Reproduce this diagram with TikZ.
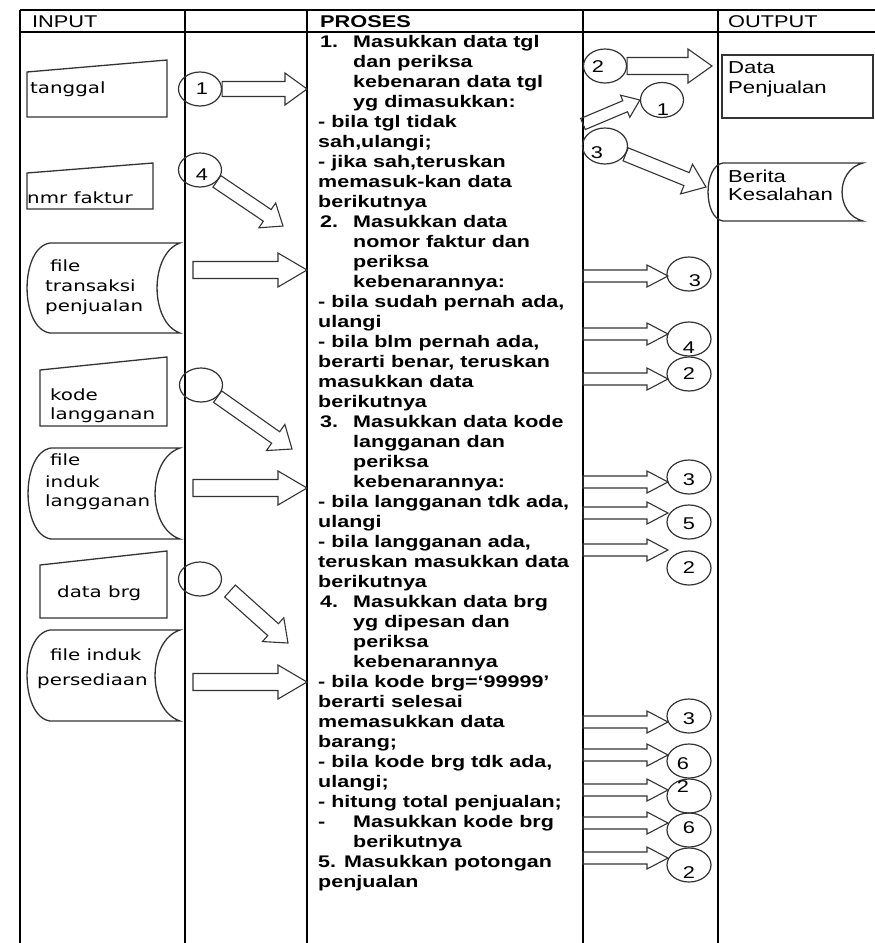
\documentclass[tikz,border=0pt]{standalone}
\usepackage{fontspec}
\usetikzlibrary{calc,shapes.geometric}
\newfontfamily\af[FakeStretch=1.28]{Liberation Sans}
\newfontfamily\df[FakeStretch=1.28]{DejaVu Sans}
\newcommand\nb[1]{\hspace*{2pt}\makebox[33pt][l]{#1}}
\newcommand\barrow[5]{%
 \draw[arr] let \p1=(#1), \p2=(#2), \n1={atan2(\y2-\y1,\x2-\x1)} in
 ($(\p1)+({\n1+90}:#3pt)$) -- ($(\p2)+({\n1+180}:#5pt)+({\n1+90}:#3pt)$)
 -- ($(\p2)+({\n1+180}:#5pt)+({\n1+90}:#4pt)$) -- (\p2)
 -- ($(\p2)+({\n1+180}:#5pt)+({\n1-90}:#4pt)$) -- ($(\p2)+({\n1+180}:#5pt)+({\n1-90}:#3pt)$)
 -- ($(\p1)+({\n1-90}:#3pt)$) -- cycle;}
% stored data shape: L R T B leftbulge rightbulge
\newcommand\stored[6]{%
 \draw[shp] ({#1+#5},#3) -- (#2,#3)
 .. controls ({#2-1.33*#6},{#3+0.12*(#4-#3)}) and ({#2-1.33*#6},{#4-0.12*(#4-#3)}) .. (#2,#4)
 -- ({#1+#5},#4)
 .. controls ({#1+#5-1.33*#5},{#4-0.05*(#4-#3)}) and ({#1+#5-1.33*#5},{#3+0.05*(#4-#3)}) .. ({#1+#5},#3) -- cycle;}
\tikzset{
 tbl/.style={line width=2pt, draw=black},
 shp/.style={line width=1.3pt, draw=black!80},
 arr/.style={line width=1.1pt, draw=black!80},
 circ/.style={ellipse, draw=black!80, line width=1.2pt, minimum width=43pt, minimum height=34pt, inner sep=0pt},
 hdr/.style={font=\af\fontsize{17}{20}\selectfont, anchor=base west, inner sep=0pt},
 ptxt/.style={font=\af\bfseries\fontsize{16.8}{20}\selectfont, anchor=base west, inner sep=0pt},
 itxt/.style={font=\df\fontsize{15.5}{20}\selectfont, anchor=base west, inner sep=0pt},
 otxt/.style={font=\af\fontsize{17.3}{20}\selectfont, anchor=base west, inner sep=0pt},
 dig/.style={font=\af\fontsize{17}{20}\selectfont, inner sep=0pt}
}
\begin{document}
\begin{tikzpicture}[x=1pt,y=-1pt]
\useasboundingbox (0,0) rectangle (875,943);
% table
\draw[tbl] (20,10) -- (875,10);
\draw[tbl] (20,32) -- (875,32);
\foreach \xx in {20,185,307,583,718} \draw[tbl] (\xx,10) -- (\xx,943);
\node[hdr] (hin) at (32,27) {INPUT};
\node[hdr,font=\af\bfseries\fontsize{17}{20}\selectfont] (hpr) at (320,27) {PROSES};
\node[hdr] (hout) at (728,27) {OUTPUT};
% input shapes
\draw[shp] (27,72) -- (167,60) -- (167,117) -- (27,117) -- cycle;
\node[itxt] (tg) at (30,93) {tanggal};
\draw[shp] (27,173) -- (153,163) -- (153,209) -- (27,209) -- cycle;
\node[itxt] (nf) at (27,203) {nmr faktur};
\stored{27}{180}{243}{333}{23}{23}
\node[itxt] at (50,271) {file};
\node[itxt] at (45,291) {transaksi};
\node[itxt] at (45,311) {penjualan};
\draw[shp] (40,370) -- (167,357) -- (167,426) -- (40,426) -- cycle;
\node[itxt] at (50,400) {kode};
\node[itxt] at (50,419) {langganan};
\stored{28}{180}{448}{539}{23}{25}
\node[itxt] at (50,465) {file};
\node[itxt] at (45,487) {induk};
\node[itxt] at (45,506) {langganan};
\draw[shp] (40,565) -- (167,551) -- (167,618) -- (40,618) -- cycle;
\node[itxt] at (57,597) {data brg};
\stored{27}{180}{630}{721}{23}{25}
\node[itxt] at (50,660) {file induk};
\node[itxt] at (37,685) {persediaan};
% output shapes
\draw[shp] (722,55) rectangle (873,118);
\node[otxt] at (728,73) {Data};
\node[otxt] at (728,93) {Penjualan};
\stored{708}{863}{163}{221}{15}{21}
\node[otxt] at (728,182) {Berita};
\node[otxt] at (728,200) {Kesalahan};
% left circles
\node[circ] (cl1) at (200,89) {};
\node[dig] at (202,89) {1};
\node[circ] (cl4) at (200,170) {};
\node[dig] at (202,175) {4};
\node[circ] (clk) at (201,385) {};
\node[circ] (cld) at (200,579) {};
% left arrows
\coordinate (t1) at (307,89);
\barrow{cl1.east}{t1}{7.5}{16}{22}
\coordinate (t4) at (283,226);
\barrow{cl4.-34}{t4}{7}{15}{19}
\coordinate (fa1) at (193,270); \coordinate (fb1) at (307,270);
\barrow{fa1}{fb1}{8.5}{17}{29}
\coordinate (tk) at (292,449);
\barrow{clk.-35}{tk}{7}{16}{20}
\coordinate (fa2) at (193,488); \coordinate (fb2) at (307,488);
\barrow{fa2}{fb2}{8.5}{17}{29}
\coordinate (ds) at (230,591); \coordinate (dt) at (288,643);
\barrow{ds}{dt}{8}{16}{20}
\coordinate (fa3) at (193,682); \coordinate (fb3) at (307,682);
\barrow{fa3}{fb3}{8.5}{17}{29}
% process text
\foreach \tx/\ix [count=\k from 0] in {
 {\nb{1.}Masukkan data tgl}/0, {dan periksa}/35, {kebenaran data tgl}/35, {yg dimasukkan:}/35,
 {- bila tgl tidak}/0, {sah,ulangi;}/0, {- jika sah,teruskan}/0, {memasuk-kan data}/0, {berikutnya}/0,
 {\nb{2.}Masukkan data}/0, {nomor faktur dan}/35, {periksa}/35, {kebenarannya:}/35,
 {- bila sudah pernah ada,}/0, {ulangi}/0, {- bila blm pernah ada,}/0, {berarti benar, teruskan}/0,
 {masukkan data}/0, {berikutnya}/0,
 {\nb{3.}Masukkan data kode}/0, {langganan dan}/35, {periksa}/35, {kebenarannya:}/35,
 {- bila langganan tdk ada,}/0, {ulangi}/0, {- bila langganan ada,}/0, {teruskan masukkan data}/0, {berikutnya}/0,
 {\nb{4.}Masukkan data brg}/0, {yg dipesan dan}/35, {periksa}/35, {kebenarannya}/35,
 {- bila kode brg=‘99999’}/0, {berarti selesai}/0, {memasukkan data}/0, {barang;}/0,
 {- bila kode brg tdk ada,}/0, {ulangi;}/0, {- hitung total penjualan;}/0,
 {\makebox[35pt][l]{-}Masukkan kode brg}/0, {berikutnya}/35,
 {5. Masukkan potongan}/0, {penjualan}/0}
 \node[ptxt] at ({318+\ix},{47+20*\k}) {\tx};
% top right circles and arrows
\node[circ] (cr2) at (605,66) {};
\node[dig] at (598,67) {2};
\coordinate (to) at (712,66);
\barrow{cr2.east}{to}{8.5}{17}{24}
\node[circ,minimum height=35pt] (cr1) at (662,100) {};
\node[dig] at (663,110) {1};
\coordinate (a1s) at (583,124);
\barrow{a1s}{cr1.west}{6}{12}{16}
\node[circ,minimum width=45pt,minimum height=36pt] (cr3) at (605,146) {};
\node[dig] at (597,153) {3};
\coordinate (tb) at (706,187);
\barrow{cr3.-22}{tb}{7}{16}{21}
% right small circles
\foreach \yy/\d/\dx/\dy in {274/3/6/7, 339/4/0/9, 374/2/0/0, 477/3/0/3, 522/5/0/2, 568/2/0/0, 716/3/0/3, 761/6/-6/3, 796/2/-6/-9, 830/6/0/-2, 865/2/0/8}{
 \node[circ,minimum width=44pt] (rc\yy) at (689,\yy) {};
 \node[dig] at ({689+\dx},{\yy+\dy}) {\d};
}
\foreach \yy in {276,334,379,482,513,550,722,755,790,823,858}{
 \coordinate (ra\yy) at (583,\yy);
 \coordinate (rb\yy) at (668,\yy);
 \barrow{ra\yy}{rb\yy}{6}{11}{21}
}
\end{tikzpicture}
\end{document}
